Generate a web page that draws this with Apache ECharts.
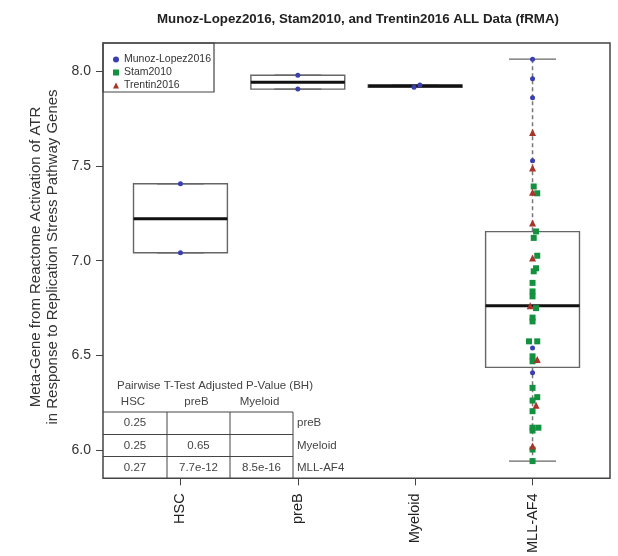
<!DOCTYPE html>
<html>
<head>
<meta charset="utf-8">
<script src="https://cdn.jsdelivr.net/npm/echarts@6/dist/echarts.min.js"></script>
<style>
  html, body { margin: 0; padding: 0; background: #fff; }
  #main { width: 618px; height: 556px; }
</style>
</head>
<body>
<div id="main"></div>
<script>
var groups = ['HSC', 'preB', 'Myeloid', 'MLL-AF4'];
var yTicks = [6.0, 6.5, 7.0, 7.5, 8.0];

// [group position, lower whisker, Q1, median, Q3, upper whisker]
var boxStats = [
    [1, 7.042, 7.042, 7.221, 7.405, 7.405],
    [2, 7.904, 7.904, 7.940, 7.977, 7.977],
    [3, 7.914, 7.914, 7.920, 7.926, 7.926],
    [4, 5.944, 6.438, 6.763, 7.153, 8.062]
];

// points [x, value], x a little off the group centre where the marks overlap
var munozLopez = [
    [1, 7.405], [1, 7.042],
    [2, 7.977], [2, 7.904],
    [2.99, 7.914], [3.04, 7.926],
    [4, 8.062], [4, 7.958], [4, 7.859], [4, 7.526], [4, 6.540], [4, 6.409]
];
var stam = [
    [4.01, 7.391], [4.04, 7.355], [4.03, 7.154], [4.01, 7.120], [4.04, 7.026],
    [4.03, 6.960], [4.01, 6.944], [4, 6.883], [4, 6.838], [4, 6.812],
    [4.03, 6.750], [4, 6.700], [4, 6.680], [3.97, 6.575], [4.04, 6.575],
    [4, 6.496], [4, 6.470], [4, 6.330], [4.04, 6.281], [4, 6.263],
    [4, 6.207], [4, 6.120], [4.05, 6.120], [4, 6.105], [4, 6.005], [4, 5.944]
];
var trentin = [
    [4, 7.675], [4, 7.489], [4, 7.360], [4, 7.198], [4, 7.014],
    [3.98, 6.763], [4.04, 6.479], [4.03, 6.238], [4, 6.023]
];

// p-value table
var tableCols = ['HSC', 'preB', 'Myeloid'];
var tableRows = ['preB', 'Myeloid', 'MLL-AF4'];
var tableVals = [
    ['0.25', '', ''],
    ['0.25', '0.65', ''],
    ['0.27', '7.7e-12', '8.5e-16']
];

var FONT = 'Liberation Sans, Arial, sans-serif';

function renderBox(params, api) {
    var x = api.value(0);
    var lo = api.coord([x, api.value(1)]);
    var q1 = api.coord([x, api.value(2)]);
    var med = api.coord([x, api.value(3)]);
    var q3 = api.coord([x, api.value(4)]);
    var hi = api.coord([x, api.value(5)]);
    var hw = api.size([0.4, 0])[0];
    var sw = hw / 2;
    var cx = lo[0];
    var lineStyle = { stroke: '#666', lineWidth: 1.4, fill: null };
    var dashStyle = { stroke: '#777', lineWidth: 1.5, lineDash: [4, 3], fill: null };
    return {
        type: 'group',
        children: [
            { type: 'line', shape: { x1: cx, y1: hi[1], x2: cx, y2: q3[1] }, style: dashStyle },
            { type: 'line', shape: { x1: cx, y1: q1[1], x2: cx, y2: lo[1] }, style: dashStyle },
            { type: 'line', shape: { x1: cx - sw, y1: hi[1], x2: cx + sw, y2: hi[1] }, style: lineStyle },
            { type: 'line', shape: { x1: cx - sw, y1: lo[1], x2: cx + sw, y2: lo[1] }, style: lineStyle },
            { type: 'rect', shape: { x: cx - hw, y: q3[1], width: hw * 2, height: q1[1] - q3[1] }, style: lineStyle },
            { type: 'line', shape: { x1: cx - hw, y1: med[1], x2: cx + hw, y2: med[1] }, style: { stroke: '#111', lineWidth: 3 } }
        ]
    };
}

// table graphics
var colEdges = [103, 167, 230, 293];
var rowEdges = [412, 434.5, 456.5, 479];
var tableFont = '11.5px ' + FONT;
var tableGraphics = [];
tableGraphics.push({
    type: 'text', x: 215, y: 386,
    style: { text: 'Pairwise T-Test Adjusted P-Value (BH)', font: tableFont, fill: '#444', textAlign: 'center', textVerticalAlign: 'middle' }
});
for (var c = 0; c < tableCols.length; c++) {
    tableGraphics.push({
        type: 'text', x: (colEdges[c] + colEdges[c + 1]) / 2 - 2, y: 402,
        style: { text: tableCols[c], font: tableFont, fill: '#444', textAlign: 'center', textVerticalAlign: 'middle' }
    });
}
for (var r = 0; r < rowEdges.length - 1; r++) {
    tableGraphics.push({
        type: 'line', shape: { x1: colEdges[0], y1: rowEdges[r], x2: colEdges[3], y2: rowEdges[r] },
        style: { stroke: '#444', lineWidth: 1 }
    });
    tableGraphics.push({
        type: 'text', x: 297, y: (rowEdges[r] + rowEdges[r + 1]) / 2,
        style: { text: tableRows[r], font: tableFont, fill: '#444', textAlign: 'left', textVerticalAlign: 'middle' }
    });
    for (var c2 = 0; c2 < tableCols.length; c2++) {
        tableGraphics.push({
            type: 'text', x: (colEdges[c2] + colEdges[c2 + 1]) / 2, y: (rowEdges[r] + rowEdges[r + 1]) / 2,
            style: { text: tableVals[r][c2], font: tableFont, fill: '#444', textAlign: 'center', textVerticalAlign: 'middle' }
        });
    }
}
for (var v = 1; v < colEdges.length; v++) {
    tableGraphics.push({
        type: 'line', shape: { x1: colEdges[v], y1: rowEdges[0], x2: colEdges[v], y2: rowEdges[3] },
        style: { stroke: '#444', lineWidth: 1 }
    });
}

var chart = echarts.init(document.getElementById('main'), null, { renderer: 'canvas' });
var option = {
    animation: false,
    backgroundColor: '#fff',
    textStyle: { fontFamily: FONT },
    title: {
        text: 'Munoz-Lopez2016, Stam2010, and Trentin2016 ALL Data (fRMA)',
        left: 353, top: 8, textAlign: 'center',
        textStyle: { fontSize: 13.3, fontWeight: 'bold', color: '#222', fontFamily: FONT }
    },
    grid: {
        left: 103, top: 43, right: 8, bottom: 77,
        show: true, borderColor: '#444', borderWidth: 1.5, backgroundColor: 'transparent'
    },
    legend: {
        orient: 'vertical', left: 108, top: 49,
        itemWidth: 6, itemHeight: 6, itemGap: 2,
        textStyle: { fontSize: 10.5, color: '#333', fontFamily: FONT },
        data: [
            { name: 'Munoz-Lopez2016', icon: 'circle' },
            { name: 'Stam2010', icon: 'rect' },
            { name: 'Trentin2016', icon: 'triangle' }
        ]
    },
    xAxis: {
        type: 'value', min: 0.34, max: 4.66,
        axisLine: { show: false },
        splitLine: { show: false },
        axisTick: { show: true, customValues: [1, 2, 3, 4], length: 7, lineStyle: { color: '#444' } },
        axisLabel: {
            customValues: [1, 2, 3, 4], rotate: 90, margin: 15,
            fontSize: 14.5, color: '#222', fontFamily: FONT,
            formatter: function (val) { return groups[Math.round(val) - 1]; }
        }
    },
    yAxis: {
        type: 'value', min: 5.853, max: 8.147,
        axisLine: { show: false },
        splitLine: { show: false },
        axisTick: { show: true, customValues: yTicks, length: 7, lineStyle: { color: '#444' } },
        axisLabel: {
            customValues: yTicks, margin: 12,
            fontSize: 14, color: '#333', fontFamily: FONT,
            formatter: function (val) { return val.toFixed(1); }
        }
    },
    graphic: [
        {
            type: 'text', x: 44, y: 257, rotation: Math.PI / 2,
            style: {
                text: 'Meta-Gene from Reactome Activation of ATR\nin Response to Replication Stress Pathway Genes',
                font: '15px ' + FONT, fill: '#333', textAlign: 'center', textVerticalAlign: 'middle', lineHeight: 17
            }
        },
        {
            type: 'rect', shape: { x: 103, y: 43, width: 111, height: 49 },
            style: { fill: null, stroke: '#444', lineWidth: 1.2 }, z: 10
        }
    ].concat(tableGraphics),
    series: [
        {
            type: 'custom', name: 'box',
            renderItem: renderBox,
            encode: { x: 0, y: [1, 2, 3, 4, 5] },
            data: boxStats, z: 1
        },
        {
            type: 'scatter', name: 'Munoz-Lopez2016', symbol: 'circle', symbolSize: 5,
            itemStyle: { color: '#3a3fb0', opacity: 1 }, data: munozLopez, z: 3
        },
        {
            type: 'scatter', name: 'Stam2010', symbol: 'rect', symbolSize: 6,
            itemStyle: { color: '#14913f', opacity: 1 }, data: stam, z: 3
        },
        {
            type: 'scatter', name: 'Trentin2016', symbol: 'triangle', symbolSize: 7,
            itemStyle: { color: '#a8342a', opacity: 1 }, data: trentin, z: 4
        }
    ]
};
chart.setOption(option);
</script>
</body>
</html>
